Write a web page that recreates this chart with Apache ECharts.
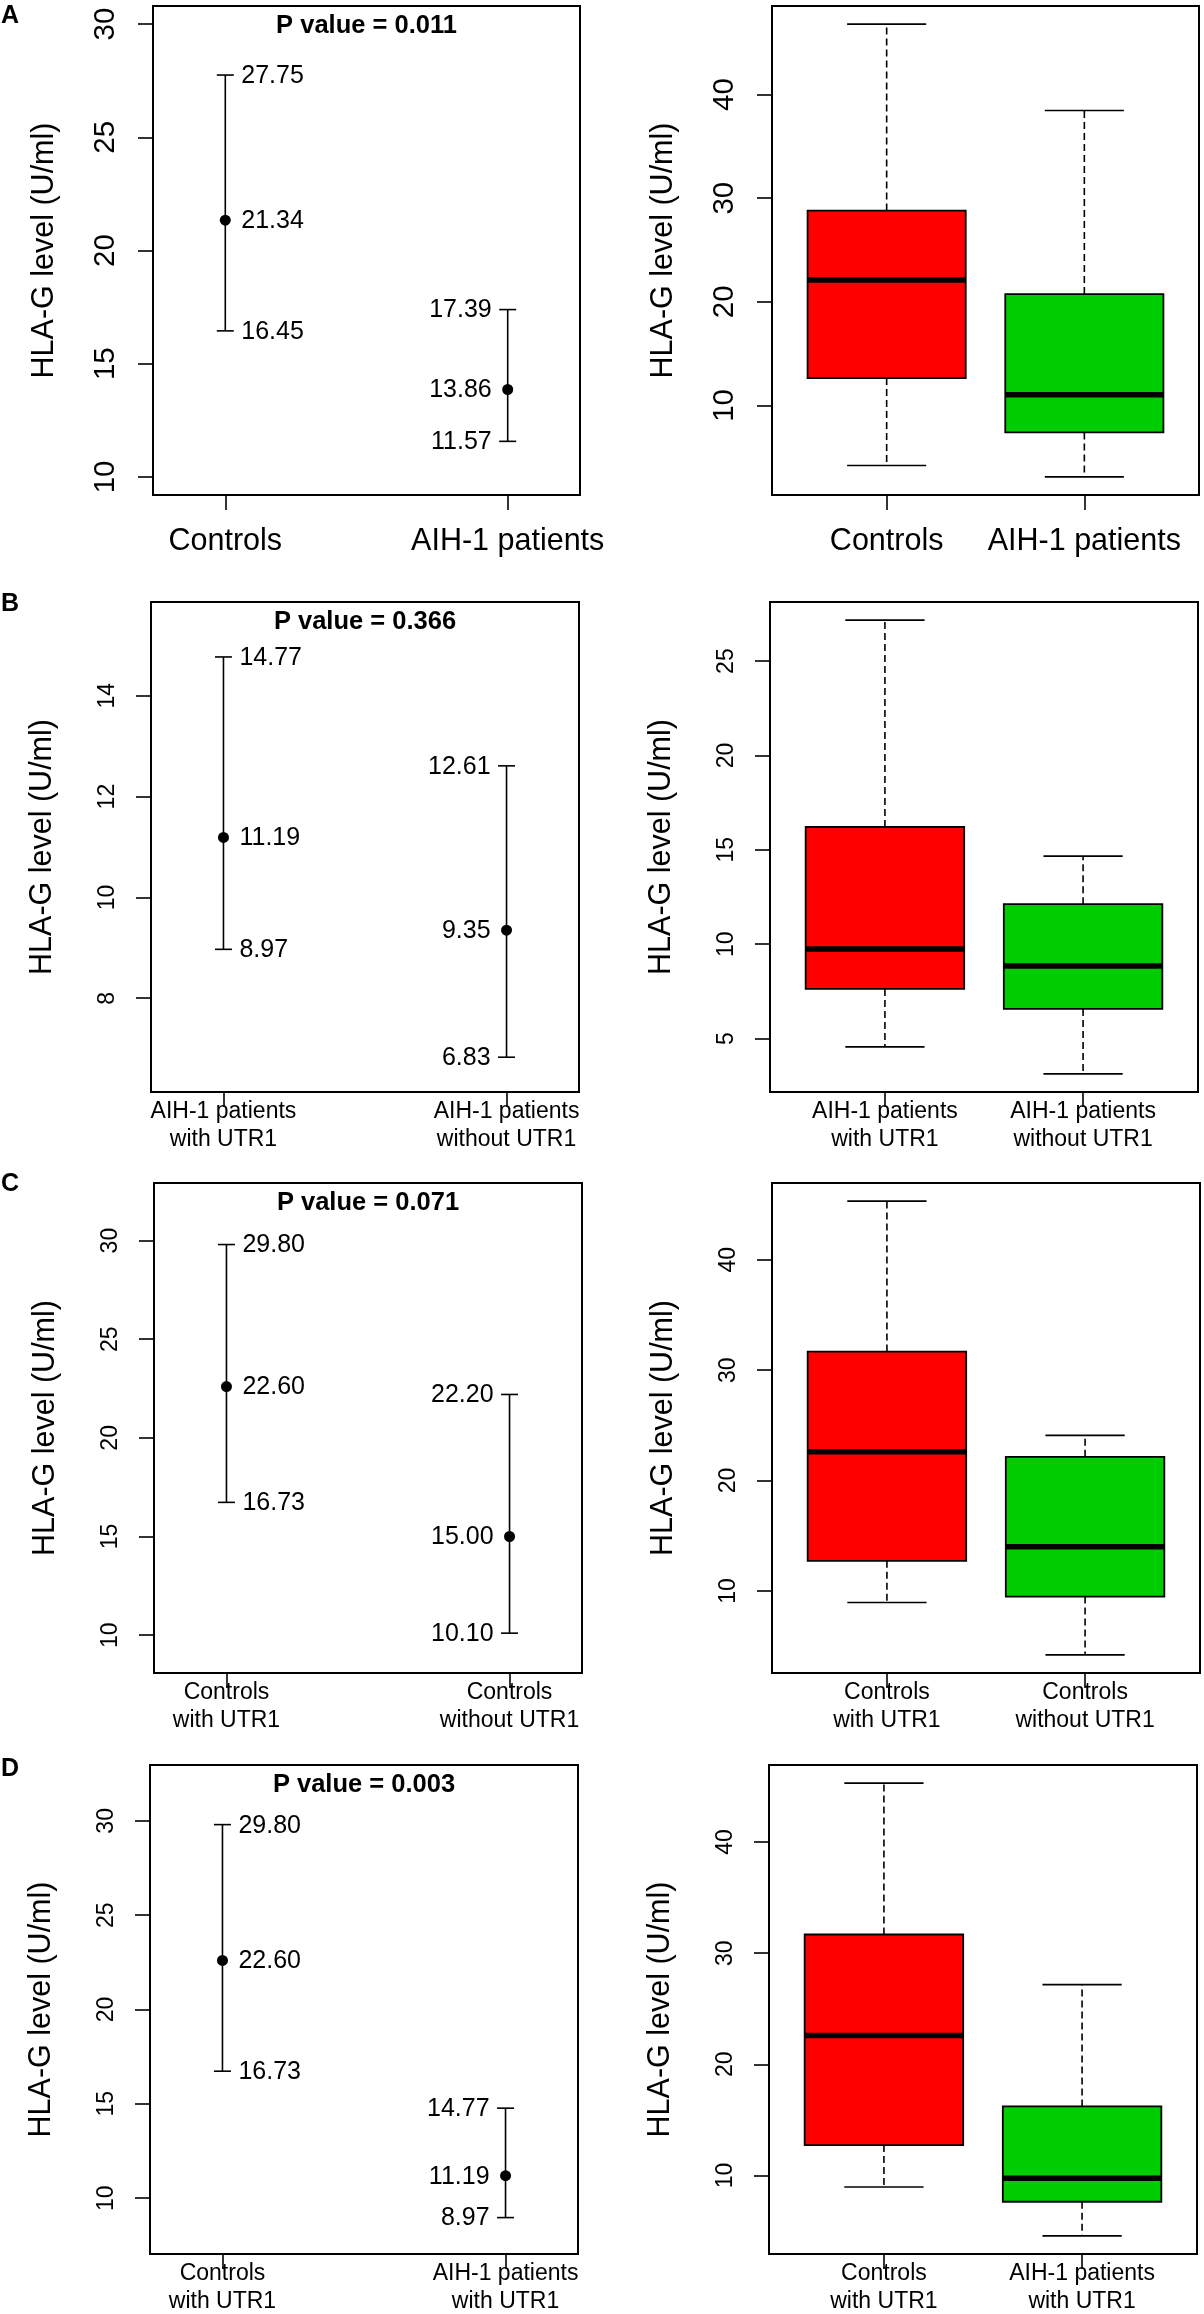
<!DOCTYPE html>
<html>
<head>
<meta charset="utf-8">
<title>HLA-G levels</title>
<script src="https://cdn.jsdelivr.net/npm/echarts@6.0.0/dist/echarts.min.js"></script>
<style>
  html, body { margin: 0; padding: 0; background: #fff; }
  #chart { width: 1204px; height: 2314px; }
</style>
</head>
<body>
<div id="chart"></div>
<script>
// ---- values ----
var pValues = ['0.011', '0.366', '0.071', '0.003'];

// left column: [low, mean, high] for each group
var groupsA = ['Controls', 'AIH-1 patients'];
var ciA = [[16.45, 21.34, 27.75], [11.57, 13.86, 17.39]];
var groupsB = ['AIH-1 patients\nwith UTR1', 'AIH-1 patients\nwithout UTR1'];
var ciB = [[8.97, 11.19, 14.77], [6.83, 9.35, 12.61]];
var groupsC = ['Controls\nwith UTR1', 'Controls\nwithout UTR1'];
var ciC = [[16.73, 22.60, 29.80], [10.10, 15.00, 22.20]];
var groupsD = ['Controls\nwith UTR1', 'AIH-1 patients\nwith UTR1'];
var ciD = [[16.73, 22.60, 29.80], [8.97, 11.19, 14.77]];

// right column: [min, Q1, median, Q3, max] for each group
var boxA = [[4.2, 12.64, 22.1, 28.8, 46.8], [3.1, 7.39, 11.03, 20.74, 38.46]];
var boxB = [[4.56, 7.63, 9.74, 16.21, 27.17], [3.13, 6.57, 8.85, 12.12, 14.67]];
var boxC = [[8.96, 12.73, 22.6, 31.68, 45.3], [4.22, 9.5, 14.0, 22.15, 24.09]];
var boxD = [[8.96, 12.73, 22.6, 31.68, 45.3], [4.56, 7.63, 9.74, 16.21, 27.17]];

// y limits of the mean plots and the tick values
var ylimA = [10, 30], ylimB = [6.5, 15.5], ylimC = [9, 32], ylimD = [8, 32];
var ciTicksA = [10, 15, 20, 25, 30];
var ciTicksB = [8, 10, 12, 14];
var ciTicksC = [10, 15, 20, 25, 30];
var ciTicksD = [10, 15, 20, 25, 30];
var boxTicksA = [10, 20, 30, 40];
var boxTicksB = [5, 10, 15, 20, 25];
var boxTicksC = [10, 20, 30, 40];
var boxTicksD = [10, 20, 30, 40];

// ---- layout / style ----
var FONT = '"Liberation Sans", Arial, Helvetica, sans-serif';
var boxColors = ['#FF0000', '#00CD00'];
var yTitle = 'HLA-G level (U/ml)';

var panels = [
  { letter: 'A', letterY: 17, groups: groupsA, ci: ciA, ylim: ylimA, ciTicks: ciTicksA, box: boxA, boxTicks: boxTicksA,
    ciGrid: [153, 6, 427, 489], boxGrid: [772, 6, 427, 489], tickFont: 29.5, catFont: 30.5, catMargin: 30, catLine: 34 },
  { letter: 'B', letterY: 605, groups: groupsB, ci: ciB, ylim: ylimB, ciTicks: ciTicksB, box: boxB, boxTicks: boxTicksB,
    ciGrid: [151, 602, 428, 490], boxGrid: [770, 602, 428, 490], tickFont: 23, catFont: 23, catMargin: 6, catLine: 28 },
  { letter: 'C', letterY: 1185, groups: groupsC, ci: ciC, ylim: ylimC, ciTicks: ciTicksC, box: boxC, boxTicks: boxTicksC,
    ciGrid: [154, 1183, 428, 490], boxGrid: [772, 1183, 428, 490], tickFont: 23, catFont: 23, catMargin: 6, catLine: 28 },
  { letter: 'D', letterY: 1770, groups: groupsD, ci: ciD, ylim: ylimD, ciTicks: ciTicksD, box: boxD, boxTicks: boxTicksD,
    ciGrid: [150, 1765, 428, 489], boxGrid: [769, 1765, 428, 489], tickFont: 23, catFont: 23, catMargin: 6, catLine: 28 }
];

// R style axis range: 4% padding on each side
function pad(lo, hi) {
  var d = (hi - lo) * 0.04;
  return [lo - d, hi + d];
}

function renderCI(params, api) {
  var x = api.value(0);
  var lo = api.value(1), mid = api.value(2), hi = api.value(3);
  var pLo = api.coord([x, lo]), pMid = api.coord([x, mid]), pHi = api.coord([x, hi]);
  var cap = 8.5;
  var side = params.dataIndex === 0 ? 1 : -1;
  var tx = pMid[0] + side * 16;
  var ln = { stroke: '#000', lineWidth: 1.6 };
  function lab(v, p) {
    return { type: 'text', style: { text: v.toFixed(2), x: tx, y: p[1] + 1, align: side > 0 ? 'left' : 'right',
      verticalAlign: 'middle', fontSize: 25, fontFamily: FONT, fill: '#000' } };
  }
  return { type: 'group', children: [
    { type: 'line', shape: { x1: pLo[0], y1: pLo[1], x2: pHi[0], y2: pHi[1] }, style: ln },
    { type: 'line', shape: { x1: pLo[0] - cap, y1: pLo[1], x2: pLo[0] + cap, y2: pLo[1] }, style: ln },
    { type: 'line', shape: { x1: pHi[0] - cap, y1: pHi[1], x2: pHi[0] + cap, y2: pHi[1] }, style: ln },
    { type: 'circle', shape: { cx: pMid[0], cy: pMid[1], r: 5.5 }, style: { fill: '#000' } },
    lab(hi, pHi), lab(mid, pMid), lab(lo, pLo)
  ] };
}

function renderBox(params, api) {
  var x = api.value(0);
  var p = [1, 2, 3, 4, 5].map(function (i) { return api.coord([x, api.value(i)]); });
  var cx = p[0][0];
  var half = api.size([0.4, 0])[0];
  var capHalf = api.size([0.2, 0])[0];
  var dash = { stroke: '#000', lineWidth: 1.6, lineDash: [7, 4] };
  var solid = { stroke: '#000', lineWidth: 1.7 };
  return { type: 'group', children: [
    { type: 'line', shape: { x1: cx, y1: p[3][1], x2: cx, y2: p[4][1] }, style: dash },
    { type: 'line', shape: { x1: cx, y1: p[1][1], x2: cx, y2: p[0][1] }, style: dash },
    { type: 'line', shape: { x1: cx - capHalf, y1: p[4][1], x2: cx + capHalf, y2: p[4][1] }, style: solid },
    { type: 'line', shape: { x1: cx - capHalf, y1: p[0][1], x2: cx + capHalf, y2: p[0][1] }, style: solid },
    { type: 'rect', shape: { x: cx - half, y: p[3][1], width: 2 * half, height: p[1][1] - p[3][1] },
      style: { fill: boxColors[params.dataIndex], stroke: '#000', lineWidth: 1.8 } },
    { type: 'line', shape: { x1: cx - half, y1: p[2][1], x2: cx + half, y2: p[2][1] }, style: { stroke: '#000', lineWidth: 5.5 } }
  ] };
}

var grids = [], xAxes = [], yAxes = [], series = [], graphics = [];

function addPanel(rect, xr, yr, ticks, groups, pan) {
  var gi = grids.length;
  grids.push({ left: rect[0], top: rect[1], width: rect[2], height: rect[3], show: true,
    borderColor: '#000', borderWidth: 2, backgroundColor: 'transparent', outerBoundsMode: 'none' });
  xAxes.push({
    gridIndex: gi, type: 'value', min: xr[0], max: xr[1],
    axisLine: { show: false }, splitLine: { show: false },
    axisTick: { show: true, inside: false, length: 15, customValues: [1, 2], lineStyle: { color: '#000', width: 1.6 } },
    axisLabel: { show: true, customValues: [1, 2], margin: pan.catMargin, fontSize: pan.catFont, lineHeight: pan.catLine,
      color: '#000', fontFamily: FONT, formatter: function (v) { return groups[Math.round(v) - 1]; } }
  });
  yAxes.push({
    gridIndex: gi, type: 'value', min: yr[0], max: yr[1],
    name: yTitle, nameLocation: 'middle', nameRotate: 90, nameGap: 93,
    nameTextStyle: { fontSize: 30.5, color: '#000', fontFamily: FONT },
    axisLine: { show: false }, splitLine: { show: false },
    axisTick: { show: true, inside: false, length: 15, customValues: ticks, lineStyle: { color: '#000', width: 1.6 } },
    axisLabel: { show: true, customValues: ticks, rotate: 90, margin: 32, fontSize: pan.tickFont,
      color: '#000', fontFamily: FONT }
  });
  return gi;
}

panels.forEach(function (pan, k) {
  // mean +/- CI panel
  var g1 = addPanel(pan.ciGrid, pad(0.8, 2.2), pad(pan.ylim[0], pan.ylim[1]), pan.ciTicks, pan.groups, pan);
  series.push({
    type: 'custom', xAxisIndex: g1, yAxisIndex: g1, renderItem: renderCI, clip: false,
    data: pan.ci.map(function (d, i) { return [i + 1].concat(d); })
  });
  // boxplot panel
  var lo = Math.min(pan.box[0][0], pan.box[1][0]);
  var hi = Math.max(pan.box[0][4], pan.box[1][4]);
  var g2 = addPanel(pan.boxGrid, pad(0.5, 2.5), pad(lo, hi), pan.boxTicks, pan.groups, pan);
  series.push({
    type: 'custom', xAxisIndex: g2, yAxisIndex: g2, renderItem: renderBox, clip: false,
    data: pan.box.map(function (d, i) { return [i + 1].concat(d); })
  });
  // panel letter and p value
  graphics.push({ type: 'text', left: 1, top: pan.letterY - 13,
    style: { text: pan.letter, fontSize: 25, fontWeight: 'bold', fontFamily: FONT, fill: '#000' } });
  graphics.push({ type: 'text', x: pan.ciGrid[0] + pan.ciGrid[2] / 2, y: pan.ciGrid[1] + 20,
    style: { text: 'P value = ' + pValues[k], align: 'center', verticalAlign: 'middle',
      fontSize: 25.5, fontWeight: 'bold', fontFamily: FONT, fill: '#000' } });
});

var chart = echarts.init(document.getElementById('chart'));
chart.setOption({
  animation: false,
  backgroundColor: '#fff',
  textStyle: { fontFamily: FONT },
  grid: grids,
  xAxis: xAxes,
  yAxis: yAxes,
  series: series,
  graphic: graphics
});
</script>
</body>
</html>
